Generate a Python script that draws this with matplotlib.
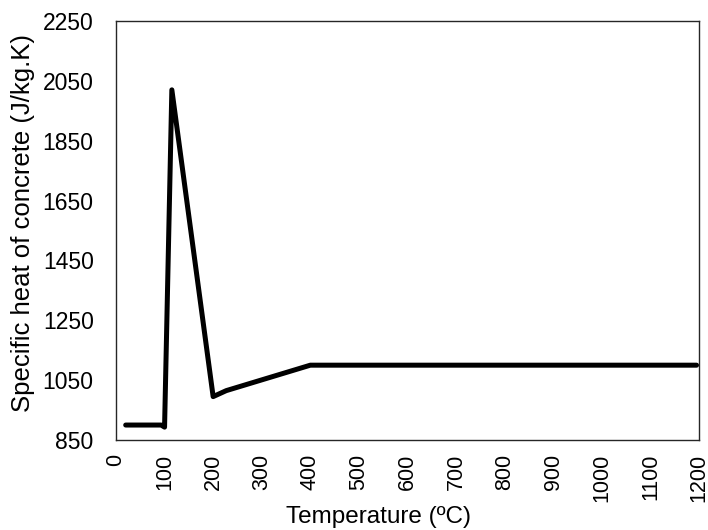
import matplotlib
matplotlib.use("Agg")
import matplotlib.pyplot as plt

# specific heat of concrete vs temperature (moisture peak around 100-115 C)
temperature = [20, 93, 100, 115, 200, 227, 400, 1195]
specific_heat = [900, 900, 893, 2020, 995, 1015, 1100, 1100]

x_ticks = list(range(0, 1201, 100))
y_ticks = list(range(850, 2251, 200))

plt.rcParams['font.family'] = ['Liberation Sans', 'DejaVu Sans']

fig = plt.figure(figsize=(7.08, 5.30), dpi=100)
ax = fig.add_axes([0.1638, 0.1698, 0.8235, 0.7906])

ax.plot(temperature, specific_heat, color='black', linewidth=3.6,
        solid_joinstyle='round', solid_capstyle='round')

ax.set_xlim(0, 1200)
ax.set_ylim(850, 2250)
ax.set_xticks(x_ticks)
ax.set_yticks(y_ticks)
ax.tick_params(axis='x', length=0, pad=10, labelsize=15.5, labelrotation=90)
ax.tick_params(axis='y', length=0, pad=16, labelsize=16.5)
for lbl in ax.get_xticklabels():
    lbl.set_verticalalignment('top')

for sp in ax.spines.values():
    sp.set_color('#262626')
    sp.set_linewidth(1.0)

ax.set_xlabel('Temperature (ºC)', fontsize=17.5)
ax.set_ylabel('Specific heat of concrete (J/kg.K)', fontsize=18.5)
# axis titles sit at fixed spots, not pushed out by the tick labels
ax.xaxis.set_label_coords(0.451, -0.158)
ax.yaxis.set_label_coords(-0.139, 0.517)

fig.savefig('out.png', dpi=100)
